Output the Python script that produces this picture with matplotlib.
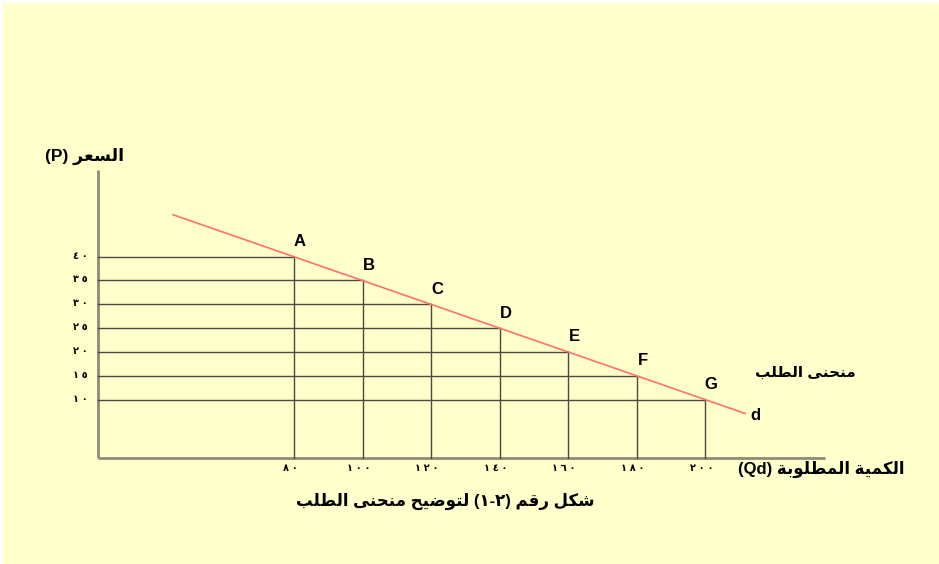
import unicodedata
import matplotlib
matplotlib.use("Agg")
import matplotlib.pyplot as plt
from matplotlib.patches import Rectangle

# demand schedule
quantity = [80, 100, 120, 140, 160, 180, 200]
price = [40, 35, 30, 25, 20, 15, 10]
point_names = ["A", "B", "C", "D", "E", "F", "G"]
x_tick_text = ["٨٠", "١٠٠", "١٢٠", "١٤٠", "١٦٠", "١٨٠", "٢٠٠"]
y_tick_text = ["٤٠", "٣٥", "٣٠", "٢٥", "٢٠", "١٥", "١٠"]
# demand line drawn a bit past the points
line_q = [44.7, 211.6]
line_p = [48.8, 7.1]

RIGHT_ONLY = set("اأإآدذرزوؤة")


def is_letter(ch):
    return "\u0621" <= ch <= "\u064a"


def shape(text):
    # pick contextual presentation forms, matplotlib does no shaping
    out = []
    for i, ch in enumerate(text):
        if not is_letter(ch):
            out.append(ch)
            continue
        prev_j = i > 0 and is_letter(text[i - 1]) and text[i - 1] not in RIGHT_ONLY
        next_j = i < len(text) - 1 and is_letter(text[i + 1]) and ch not in RIGHT_ONLY
        if prev_j and next_j:
            form = "MEDIAL"
        elif prev_j:
            form = "FINAL"
        elif next_j:
            form = "INITIAL"
        else:
            form = "ISOLATED"
        try:
            out.append(unicodedata.lookup(unicodedata.name(ch) + " " + form + " FORM"))
        except KeyError:
            out.append(ch)
    return "".join(out)


def vis(text):
    s = shape(text)[::-1]
    return s.translate(str.maketrans("()", ")("))


def spaced(num):
    # the source font sets these digits far apart
    return " ".join(num)


W, H = 939, 564
fig = plt.figure(figsize=(W / 100, H / 100), dpi=100)
fig.patch.set_facecolor("white")
fig.patches.append(Rectangle((3 / W, 0), 1, (H - 3) / H, transform=fig.transFigure,
                             facecolor="#FFFFCC", edgecolor="none", zorder=-5))

ax = fig.add_axes([0, 0, 1, 1])
ax.set_zorder(1)
ax.set_facecolor("none")
ax.set_xlim(-5.8, 268.2)
ax.set_ylim(-24.5, 93.87)
ax.axis("off")

x0, y0 = 22.8, -2.3
# axes
ax.plot([x0, x0], [y0, 58.2], color="#8C8C78", lw=2, solid_capstyle="butt")
ax.plot([x0, 234.9], [y0, y0], color="#8C8C78", lw=2, solid_capstyle="butt")

for q, p in zip(quantity, price):
    ax.plot([x0, q], [p, p], color="#4A4A40", lw=1)
    ax.plot([q, q], [y0, p], color="#4A4A40", lw=1)

ax.plot(line_q, line_p, color="#FF7070", lw=1.2)

fam = ["Liberation Sans", "DejaVu Sans"]
for q, p, name in zip(quantity, price, point_names):
    ax.annotate(name, (q, p), xytext=(6, 15), textcoords="offset pixels",
                ha="center", va="center", fontsize=12, fontweight="bold", family=fam)

for p, t in zip(price, y_tick_text):
    ax.annotate(spaced(t), (x0, p), xytext=(-10, 1), textcoords="offset pixels",
                ha="right", va="center", fontsize=7, fontweight="bold", family=fam)
for q, t in zip(quantity, x_tick_text):
    ax.annotate(spaced(t), (q, y0), xytext=(-4, -10), textcoords="offset pixels",
                ha="center", va="center", fontsize=7, fontweight="bold", family=fam)


def ftext(px, py, s, **kw):
    fig.text(px / W, 1 - py / H, s, fontweight="bold", family=fam, zorder=3, **kw)


ftext(45, 156, "(P) " + vis("السعر"), fontsize=12.5, ha="left", va="center")
ftext(738, 469, "(Qd) " + vis("الكمية المطلوبة"), fontsize=12, ha="left", va="center")
ftext(805, 373, vis("منحنى الطلب"), fontsize=11, ha="center", va="center")
ftext(750, 415, "d", fontsize=12, ha="left", va="center")
ftext(445, 501, vis("شكل رقم (٢-١) لتوضيح منحنى الطلب"), fontsize=12, ha="center", va="center")

fig.savefig("out.png", dpi=100)
